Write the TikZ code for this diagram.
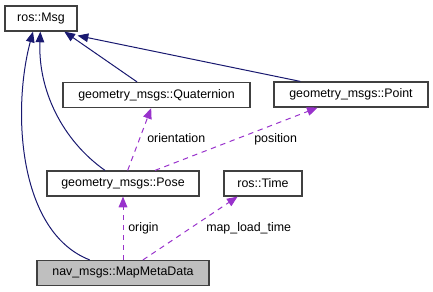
\documentclass[tikz,border=0pt]{standalone}
\usepackage{fontspec}
\setmainfont{Liberation Sans}
\usetikzlibrary{arrows.meta,calc}
\definecolor{inherit}{RGB}{25,25,112}
\definecolor{member}{RGB}{153,50,204}
\definecolor{current}{RGB}{191,191,191}
\begin{document}
\begin{tikzpicture}[x=0.75pt,y=-0.75pt,
  cls/.style={draw=black!75,line width=0.9pt,fill=white,inner sep=0pt,
    minimum height=18.75pt,font=\fontsize{9.3}{11}\selectfont},
  base/.style={draw=inherit,line width=0.75pt,
    -{Triangle[length=8pt,width=6.5pt]}},
  usage/.style={draw=member,line width=0.75pt,dash pattern=on 4pt off 3.5pt,
    -{Triangle[length=8pt,width=6.5pt]}},
  lbl/.style={font=\fontsize{9.3}{11}\selectfont,anchor=west,inner sep=0pt}]
\useasboundingbox (0,0) rectangle (433,292);
% class boxes
\node[cls,minimum width=54pt] (msg) at (41,18.5) {ros::Msg};
\node[cls,minimum width=140.25pt] (quat) at (156.5,95) {geometry\_msgs::Quaternion};
\node[cls,minimum width=115.5pt] (point) at (351,94.5) {geometry\_msgs::Point};
\node[cls,minimum width=114pt] (pose) at (123,183.5) {geometry\_msgs::Pose};
\node[cls,minimum width=58.5pt] (time) at (263,183.5) {ros::Time};
\node[cls,fill=current,minimum width=129pt] (meta) at (123,273) {nav\_msgs::MapMetaData};
% inheritance
\draw[base] ([xshift=-25pt]meta.north) .. controls (18,232) and (12,110) .. ([xshift=-6pt]msg.south);
\draw[base] ([xshift=-13.5pt]pose.north) .. controls (62,140) and (38,90) .. ([xshift=-0.5pt]msg.south);
\draw[base] ([xshift=-14.6pt]quat.north) -- ([xshift=17.5pt]msg.south);
\draw[base] ([xshift=-38pt]point.north) -- ([yshift=-3pt]msg.south east);
% members
\draw[usage] ([xshift=3.5pt]pose.north) -- ([xshift=-4pt]quat.south);
\draw[usage] ([xshift=24pt]pose.north) -- ([xshift=-25pt]point.south);
\draw[usage] (meta.north) -- (pose.south);
\draw[usage] ([xshift=15pt]meta.north) -- ([xshift=-19pt]time.south);
% member labels
\node[lbl] (l1) at (147,138) {orientation};
\node[lbl] (l2) at (254,139) {position};
\node[lbl] (l3) at (128,228) {origin};
\node[lbl] (l4) at (206,228) {map\_load\_time};
\end{tikzpicture}
\end{document}
